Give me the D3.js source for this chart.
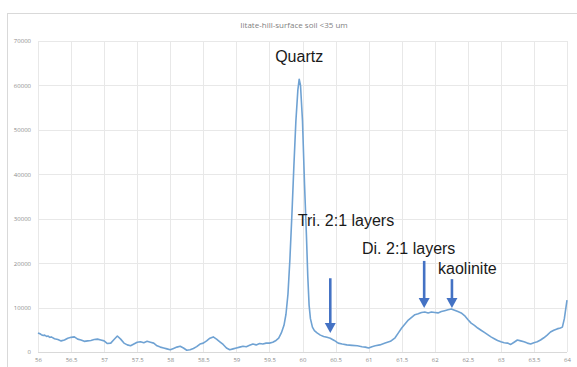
<!DOCTYPE html>
<html>
<head>
<meta charset="utf-8">
<script src="https://cdn.jsdelivr.net/npm/d3@7"></script>
<style>
  html, body { margin: 0; padding: 0; background: #fff; }
  svg { display: block; }
</style>
</head>
<body>
<svg id="chart" width="577" height="367"></svg>
<script>
// ---- data ----
const chartTitle = "Iitate-hill-surface soil <35 um";
const twoTheta = [
  56.00,56.03,56.05,56.08,56.10,56.13,56.15,56.18,56.20,56.25,56.30,56.35,56.40,56.45,56.50,56.55,
  56.60,56.65,56.70,56.75,56.80,56.85,56.90,56.95,57.00,57.05,57.10,57.15,57.20,57.25,57.30,57.35,
  57.40,57.45,57.50,57.55,57.60,57.65,57.70,57.75,57.80,57.85,57.90,57.95,58.00,58.05,58.10,58.15,
  58.20,58.25,58.30,58.35,58.40,58.45,58.50,58.55,58.60,58.65,58.70,58.75,58.80,58.85,58.90,58.95,
  59.00,59.05,59.10,59.15,59.20,59.25,59.30,59.35,59.40,59.45,59.50,59.55,59.60,59.64,59.68,59.72,
  59.75,59.78,59.81,59.84,59.87,59.90,59.93,59.95,59.97,60.00,60.03,60.06,60.08,60.10,60.12,60.15,
  60.18,60.22,60.27,60.32,60.37,60.42,60.48,60.54,60.60,60.67,60.75,60.83,60.90,60.95,61.00,61.05,
  61.10,61.17,61.25,61.33,61.40,61.45,61.50,61.55,61.60,61.65,61.70,61.75,61.80,61.85,61.90,61.95,
  62.00,62.05,62.10,62.15,62.20,62.25,62.30,62.35,62.40,62.45,62.50,62.55,62.60,62.65,62.70,62.75,
  62.80,62.85,62.90,62.95,63.00,63.05,63.10,63.15,63.20,63.25,63.30,63.35,63.40,63.45,63.50,63.55,
  63.60,63.65,63.70,63.75,63.80,63.85,63.90,63.93,63.96,64.00
];
const intensity = [
  4300,4100,3900,3700,3800,3500,3600,3300,3400,3000,2800,2500,2700,3100,3300,3400,
  2900,2700,2400,2500,2600,2800,2900,2700,2500,1900,2000,2800,3600,2900,2000,1600,
  1400,1800,2200,2300,2100,2400,2200,2000,1400,1100,900,700,500,800,1100,1300,
  900,400,500,800,1200,1800,2000,2500,3100,3400,2900,2300,1700,900,500,700,
  900,1100,1300,1200,1500,1800,1600,1900,1800,2000,2000,2200,2600,3100,4300,6000,
  8500,13000,21000,31000,42000,52000,59000,61400,60000,52000,38000,26000,17000,10500,7500,5600,
  4800,4300,3800,3500,3300,3100,2600,2000,1800,1600,1500,1400,1200,1100,900,1200,
  1400,1600,2000,2400,3200,4300,5400,6300,7200,7800,8400,8600,8900,9000,8800,9000,
  8900,8800,9100,9300,9500,9700,9400,9100,8800,8200,7300,6500,6000,5400,4900,4400,
  3900,3400,3000,2600,2300,2100,2000,1700,2200,2700,2500,2300,2000,1800,2100,2300,
  2700,3200,3800,4500,4900,5200,5400,5600,7500,11700
];
const xTickValues = [56,56.5,57,57.5,58,58.5,59,59.5,60,60.5,61,61.5,62,62.5,63,63.5,64];
const yTickValues = [0,10000,20000,30000,40000,50000,60000,70000];
const labelTexts = ["Quartz","Tri. 2:1 layers","Di. 2:1 layers","kaolinite"];
const labelX = [59.95, 59.93, 60.90, 62.05];       // 2θ anchor
const labelY = [65300, 28300, 22100, 17500];       // intensity at baseline
const labelAnchor = ["middle","start","start","start"];
const arrowX = [60.42, 61.84, 62.26];
const arrowTop = [16600, 20500, 16400];
const arrowTip = [4300, 9900, 9900];

// ---- drawing ----
const svg = d3.select("#chart");
const x = d3.scaleLinear().domain([56, 64]).range([38, 567]);
const y = d3.scaleLinear().domain([0, 70000]).range([352, 41]);

// outer frame
svg.append("rect").attr("x", 7.5).attr("y", 13.5).attr("width", 575).attr("height", 360)
  .attr("fill", "#fff").attr("stroke", "#d9d9d9").attr("stroke-width", 1);

// title
svg.append("text").attr("x", 294).attr("y", 28).attr("text-anchor", "middle")
  .attr("font-family", "Open Sans, Liberation Sans, sans-serif").attr("font-size", 8)
  .attr("fill", "#7f7f7f").text(chartTitle);

// gridlines
svg.append("g").selectAll("line").data(yTickValues).join("line")
  .attr("x1", x(56)).attr("x2", x(64))
  .attr("y1", d => Math.round(y(d)) + 0.5).attr("y2", d => Math.round(y(d)) + 0.5)
  .attr("stroke", d => d === 0 ? "#d9d9d9" : "#e8e8e8").attr("stroke-width", 1);
svg.append("g").selectAll("line").data(xTickValues).join("line")
  .attr("x1", d => Math.round(x(d)) + 0.5).attr("x2", d => Math.round(x(d)) + 0.5)
  .attr("y1", y(70000)).attr("y2", y(0))
  .attr("stroke", "#e8e8e8").attr("stroke-width", 1);

// axes (text only)
const xAxis = d3.axisBottom(x).tickValues(xTickValues).tickSize(0).tickPadding(6)
  .tickFormat(d => String(d));
svg.append("g").attr("transform", `translate(0,${y(0)})`).call(xAxis)
  .call(g => g.select(".domain").remove())
  .call(g => g.selectAll("text").attr("font-size", 6).attr("fill", "#8c8c8c")
    .attr("font-family", "Open Sans, Liberation Sans, sans-serif"));
const yAxis = d3.axisLeft(y).tickValues(yTickValues).tickSize(0).tickPadding(7)
  .tickFormat(d => String(d));
svg.append("g").attr("transform", `translate(${x(56)},0)`).call(yAxis)
  .call(g => g.select(".domain").remove())
  .call(g => g.selectAll("text").attr("font-size", 6).attr("fill", "#8c8c8c")
    .attr("font-family", "Open Sans, Liberation Sans, sans-serif"));

// data line
const pts = twoTheta.map((t, i) => [t, intensity[i]]);
const line = d3.line().x(d => x(d[0])).y(d => y(d[1]));
svg.append("path").datum(pts).attr("d", line)
  .attr("fill", "none").attr("stroke", "#6fa2d3").attr("stroke-width", 1.6)
  .attr("stroke-linejoin", "round");

// labels
svg.append("g").selectAll("text").data(labelTexts).join("text")
  .attr("x", (d, i) => x(labelX[i])).attr("y", (d, i) => y(labelY[i]))
  .attr("text-anchor", (d, i) => labelAnchor[i])
  .attr("font-family", "Liberation Sans, Arial, sans-serif").attr("font-size", 16)
  .attr("fill", "#1a1a1a").text(d => d);

// arrows
const arrowColor = "#4472c4";
const ag = svg.append("g");
arrowX.forEach((ax, i) => {
  const px = x(ax), top = y(arrowTop[i]), tip = y(arrowTip[i]);
  const headLen = 10, headHalf = 5.5;
  ag.append("line").attr("x1", px).attr("x2", px).attr("y1", top).attr("y2", tip - headLen + 1)
    .attr("stroke", arrowColor).attr("stroke-width", 2.6);
  ag.append("path")
    .attr("d", `M${px - headHalf},${tip - headLen} L${px + headHalf},${tip - headLen} L${px},${tip} Z`)
    .attr("fill", arrowColor);
});
</script>
</body>
</html>
